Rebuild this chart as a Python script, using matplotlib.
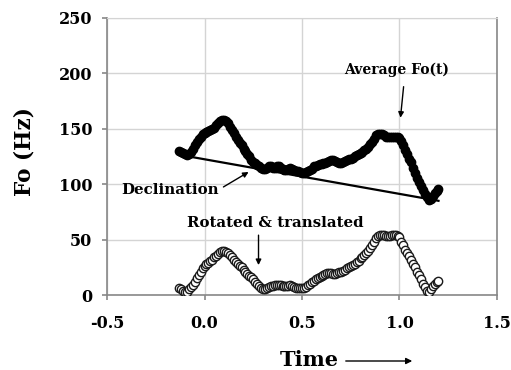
import matplotlib
matplotlib.use("Agg")
import matplotlib.pyplot as plt
from matplotlib.patches import FancyArrowPatch

plt.rcParams['font.family'] = ['DejaVu Serif']
plt.rcParams['font.weight'] = 'bold'

time = [-0.13, -0.12, -0.11, -0.10, -0.09, -0.08, -0.07, -0.06, -0.05, -0.04,
        -0.03, -0.02, -0.01, 0.00, 0.01, 0.02, 0.03, 0.04, 0.05, 0.06,
        0.07, 0.08, 0.09, 0.10, 0.11, 0.12, 0.13, 0.14, 0.15, 0.16,
        0.17, 0.18, 0.19, 0.20, 0.21, 0.22, 0.23, 0.24, 0.25, 0.26,
        0.27, 0.28, 0.29, 0.30, 0.31, 0.32, 0.33, 0.34, 0.35, 0.36,
        0.37, 0.38, 0.39, 0.40, 0.41, 0.42, 0.43, 0.44, 0.45, 0.46,
        0.47, 0.48, 0.49, 0.50, 0.51, 0.52, 0.53, 0.54, 0.55, 0.56,
        0.57, 0.58, 0.59, 0.60, 0.61, 0.62, 0.63, 0.64, 0.65, 0.66,
        0.67, 0.68, 0.69, 0.70, 0.71, 0.72, 0.73, 0.74, 0.75, 0.76,
        0.77, 0.78, 0.79, 0.80, 0.81, 0.82, 0.83, 0.84, 0.85, 0.86,
        0.87, 0.88, 0.89, 0.90, 0.91, 0.92, 0.93, 0.94, 0.95, 0.96,
        0.97, 0.98, 0.99, 1.00, 1.01, 1.02, 1.03, 1.04, 1.05, 1.06,
        1.07, 1.08, 1.09, 1.10, 1.11, 1.12, 1.13, 1.14, 1.15, 1.16,
        1.17, 1.18, 1.19, 1.20]

average_f0 = [130, 129, 128, 127, 126, 127, 129, 132, 135, 138,
              141, 143, 145, 146, 147, 148, 149, 150, 151, 153,
              155, 157, 158, 158, 157, 155, 152, 149, 146, 143,
              140, 137, 135, 132, 130, 127, 125, 122, 120, 119,
              117, 116, 115, 114, 114, 115, 116, 116, 115, 115,
              116, 116, 115, 114, 113, 113, 114, 115, 114, 113,
              112, 112, 111, 110, 110, 111, 112, 113, 114, 116,
              116, 117, 118, 118, 119, 119, 120, 121, 122, 122,
              121, 120, 119, 119, 120, 121, 122, 123, 123, 124,
              125, 126, 127, 128, 129, 131, 132, 134, 136, 138,
              141, 144, 145, 145, 145, 144, 143, 143, 143, 143,
              143, 143, 143, 142, 139, 135, 131, 127, 123, 120,
              115, 110, 106, 102, 98, 95, 91, 88, 86, 87,
              89, 92, 94, 96]

rotated_f0 = [6, 5, 4, 3, 3, 5, 7, 9, 12, 15,
              18, 21, 24, 26, 28, 29, 31, 32, 34, 35,
              37, 39, 40, 40, 39, 38, 36, 34, 32, 30,
              28, 26, 25, 23, 21, 19, 17, 16, 14, 12,
              10, 8, 6, 5, 5, 6, 7, 8, 8, 9,
              9, 9, 9, 8, 8, 8, 8, 9, 8, 7,
              6, 6, 6, 6, 6, 7, 9, 10, 12, 13,
              14, 15, 16, 17, 18, 19, 20, 20, 20, 19,
              19, 20, 21, 21, 22, 23, 24, 25, 26, 27,
              28, 30, 31, 33, 34, 36, 38, 40, 42, 45,
              48, 51, 53, 54, 54, 54, 53, 53, 53, 54,
              54, 54, 53, 52, 48, 45, 41, 38, 35, 32,
              28, 25, 21, 18, 14, 10, 7, 4, 3, 5,
              8, 10, 12, 13]

declination_t = [-0.08, 1.20]
declination_f0 = [125, 85]

x_ticks = [-0.5, 0.0, 0.5, 1.0, 1.5]
x_ticklabels = ['-0.5', '0.0', '0.5', '1.0', '1.5']
y_ticks = [0, 50, 100, 150, 200, 250]

fig = plt.figure(figsize=(5.11, 3.70), dpi=100)
ax = fig.add_axes([0.2094, 0.2027, 0.7632, 0.7487])

ax.set_xlim(-0.5, 1.5)
ax.set_ylim(0, 250)
ax.set_xticks(x_ticks)
ax.set_xticklabels(x_ticklabels)
ax.set_yticks(y_ticks)
ax.grid(True, color='#d4d4d4', linewidth=1.0)
ax.set_axisbelow(True)
for s in ['left', 'bottom', 'right']:
    ax.spines[s].set_color('#888888')
    ax.spines[s].set_linewidth(1.2)
ax.spines['top'].set_color('#d4d4d4')
ax.tick_params(axis='both', colors='#888888', length=3.6, width=1.2,
               labelcolor='black', labelsize=11.5)
ax.tick_params(axis='y', pad=7)
ax.tick_params(axis='x', pad=11)
for lab in ax.get_xticklabels() + ax.get_yticklabels():
    lab.set_fontweight('bold')

ax.plot(declination_t, declination_f0, color='black', linewidth=1.6, zorder=3)
ax.plot(time, average_f0, linestyle='none', marker='o', markersize=6,
        color='black', zorder=4)
ax.plot(time, rotated_f0, linestyle='none', marker='o', markersize=6,
        markerfacecolor='white', markeredgecolor='#1a1a1a',
        markeredgewidth=1.0, zorder=4)

fig.text(25 / 511, 1 - 152 / 370, 'Fo (Hz)', rotation=90, ha='center',
         va='center', fontsize=15.5, fontweight='bold')

ax.text(0.715, 203, 'Average Fo(t)', ha='left', va='center',
        fontsize=10, fontweight='bold')
ax.text(-0.426, 95, 'Declination', ha='left', va='center',
        fontsize=10.8, fontweight='bold')
ax.text(-0.092, 65, 'Rotated & translated', ha='left', va='center',
        fontsize=10.8, fontweight='bold')

arrow_kw = dict(arrowstyle='-|>', color='black', lw=1.0,
                shrinkA=0, shrinkB=0, mutation_scale=8)
ax.annotate('', xy=(1.005, 160), xytext=(1.021, 188), arrowprops=arrow_kw)
ax.annotate('', xy=(0.226, 111), xytext=(0.097, 97.5), arrowprops=arrow_kw)
ax.annotate('', xy=(0.277, 27), xytext=(0.277, 54), arrowprops=arrow_kw)

fig.text(0.605, 0.011, 'Time', ha='center', va='baseline',
         fontsize=15, fontweight='bold')
arr = FancyArrowPatch((343 / 511, 1 - 361 / 370), (415 / 511, 1 - 361 / 370),
                      transform=fig.transFigure, arrowstyle='-|>',
                      mutation_scale=9, color='black', lw=1.0)
fig.patches.append(arr)

fig.savefig('out.png', dpi=100)
